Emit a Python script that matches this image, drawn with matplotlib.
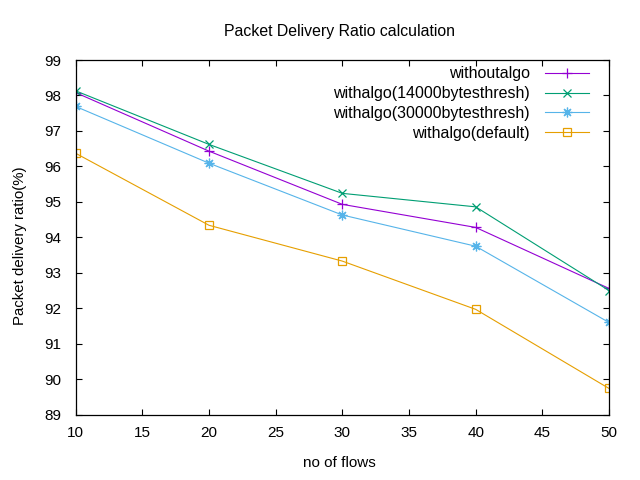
import matplotlib
matplotlib.use("Agg")
import matplotlib.pyplot as plt

flows = [10, 20, 30, 40, 50]
without_algo = [98.08, 96.43, 94.93, 94.28, 92.56]
algo_14000 = [98.13, 96.62, 95.24, 94.86, 92.50]
algo_30000 = [97.69, 96.09, 94.63, 93.75, 91.60]
algo_default = [96.37, 94.34, 93.33, 91.97, 89.74]

labels = ["withoutalgo", "withalgo(14000bytesthresh)",
          "withalgo(30000bytesthresh)", "withalgo(default)"]
xticks = [10, 15, 20, 25, 30, 35, 40, 45, 50]
yticks = [89, 90, 91, 92, 93, 94, 95, 96, 97, 98, 99]

plt.rcParams['font.family'] = ['Liberation Sans', 'DejaVu Sans']
plt.rcParams['font.size'] = 11

fig = plt.figure(figsize=(6.4, 4.8), dpi=100)
L, R, T, B = 75.7, 609.0, 60.0, 414.7
ax = fig.add_axes([L/640, 1-B/480, (R-L)/640, (B-T)/480])

lw = 0.8
ax.plot(flows, without_algo, color='#9400d3', lw=lw, marker='+', ms=7, mew=0.9, label=labels[0])
ax.plot(flows, algo_14000, color='#009e73', lw=lw, marker='x', ms=5.5, mew=0.9, label=labels[1])
ax.plot(flows, algo_30000, color='#56b4e9', lw=lw, marker=(8, 2, 0), ms=7, mew=0.9, label=labels[2])
ax.plot(flows, algo_default, color='#e69f00', lw=lw, marker='s', ms=6, mew=0.9,
        fillstyle='none', label=labels[3])

ax.set_xlim(10, 50)
ax.set_ylim(89, 99)
ax.set_xticks(xticks)
ax.set_yticks(yticks)
ax.tick_params(direction='in', length=4.5, width=0.8, top=True, right=True, labelsize=11)
ax.tick_params(axis='x', pad=8)
ax.tick_params(axis='y', pad=10.4)
for s in ax.spines.values():
    s.set_linewidth(0.9)

fig.text(340/640, 1-35.7/480, "Packet Delivery Ratio calculation", fontsize=11.4,
         ha='center', va='baseline')
ax.set_xlabel("no of flows", fontsize=11)
ax.xaxis.set_label_coords(0.495, (B-456)/(B-T))
ax.set_ylabel("Packet delivery ratio(%)", fontsize=10.8)
ax.yaxis.set_label_coords((27-L)/(R-L), (B-245.8)/(B-T))

leg = ax.legend(loc='upper right', bbox_to_anchor=((589-L)/(R-L), (B-66.4)/(B-T)),
                frameon=False, markerfirst=False, handlelength=2.75, handletextpad=0.94,
                labelspacing=0.30, fontsize=11.5, borderaxespad=0, borderpad=0)

fig.savefig("out.png", dpi=100)
